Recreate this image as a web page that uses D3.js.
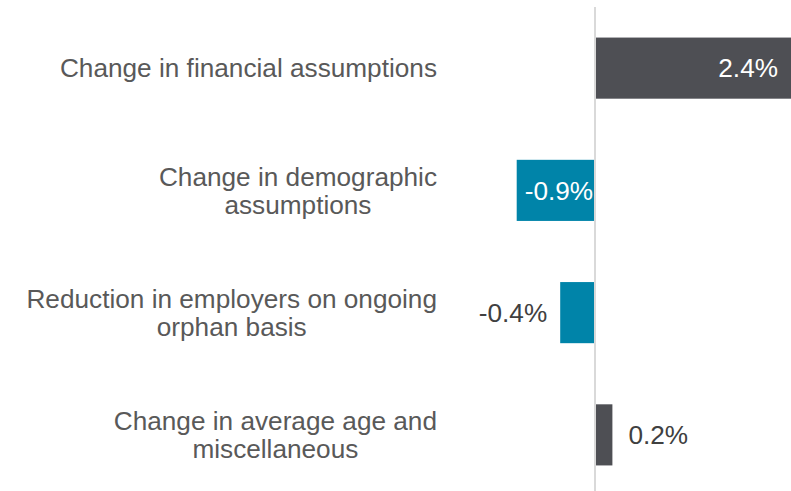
<!DOCTYPE html>
<html>
<head>
<meta charset="utf-8">
<script src="https://cdn.jsdelivr.net/npm/d3@7"></script>
<style>
  body { margin: 0; background: #fff; }
  text { font-family: "Liberation Sans", Arial, sans-serif; }
</style>
</head>
<body>
<div id="chart"></div>
<script>
// Chart data
const categories = [
    ["Change in financial assumptions"],
    ["Change in demographic", "assumptions"],
    ["Reduction in employers on ongoing", "orphan basis"],
    ["Change in average age and", "miscellaneous"]
];
const values = [2.4, -0.9, -0.4, 0.2];
const valueLabels = ["2.4%", "-0.9%", "-0.4%", "0.2%"];

const width = 791;
const height = 491;
const fontSize = 26.2;
const lineHeight = 28;

const svg = d3.select("#chart")
    .append("svg")
    .attr("width", width)
    .attr("height", height);

const data = values.map((v, i) => ({ key: i, lines: categories[i], value: v, label: valueLabels[i] }));

// Scales
const x = d3.scaleLinear()
    .domain([-1, 2.5])
    .range([508, 812.5]);

const y = d3.scaleBand()
    .domain(data.map(d => d.key))
    .range([7, 496])
    .paddingInner(0.5)
    .paddingOuter(0.25);

// Bars
svg.selectAll(".bar")
    .data(data)
    .enter()
    .append("rect")
    .attr("class", "bar")
    .attr("x", d => Math.min(x(0), x(d.value)) + (d.value > 0 ? 1 : 0))
    .attr("y", d => y(d.key))
    .attr("width", d => Math.abs(x(d.value) - x(0)) - 1)
    .attr("height", y.bandwidth())
    .attr("fill", d => d.value < 0 ? "#0084a9" : "#4e4f54");

// Zero line
svg.append("line")
    .attr("x1", x(0)).attr("x2", x(0))
    .attr("y1", 7).attr("y2", height)
    .attr("stroke", "#d9d9d9")
    .attr("stroke-width", 2);

// Value labels
svg.selectAll(".value")
    .data(data)
    .enter()
    .append("text")
    .attr("class", "value")
    .attr("y", d => y(d.key) + y.bandwidth() / 2)
    .attr("dy", "0.35em")
    .style("font-size", fontSize + "px")
    .each(function(d) {
        const t = d3.select(this).text(d.label);
        const barLen = Math.abs(x(d.value) - x(0));
        if (d.value > 0 && barLen > 100) {
            t.attr("x", Math.min(x(d.value), width) - 13).attr("text-anchor", "end").attr("fill", "#fff");
        } else if (d.value > 0) {
            t.attr("x", x(d.value) + 16).attr("text-anchor", "start").attr("fill", "#404040");
        } else if (barLen > 60) {
            t.attr("x", x(d.value) + 8).attr("text-anchor", "start").attr("fill", "#fff");
        } else {
            t.attr("x", x(d.value) - 13).attr("text-anchor", "end").attr("fill", "#404040");
        }
    });

// Category labels (right aligned block, lines centred), one text per line
const labelRight = 437;
data.forEach(d => {
    const cy = y(d.key) + y.bandwidth() / 2;
    const y0 = cy - (d.lines.length - 1) * lineHeight / 2;
    const lines = svg.selectAll(".cat-" + d.key)
        .data(d.lines)
        .enter()
        .append("text")
        .attr("class", "cat cat-" + d.key)
        .attr("fill", "#595959")
        .attr("text-anchor", "middle")
        .style("font-size", fontSize + "px")
        .attr("y", (line, i) => y0 + i * lineHeight)
        .attr("dy", "0.35em")
        .text(line => line);
    const maxW = d3.max(lines.nodes(), n => n.getComputedTextLength());
    lines.attr("x", labelRight - maxW / 2);
});
</script>
</body>
</html>
